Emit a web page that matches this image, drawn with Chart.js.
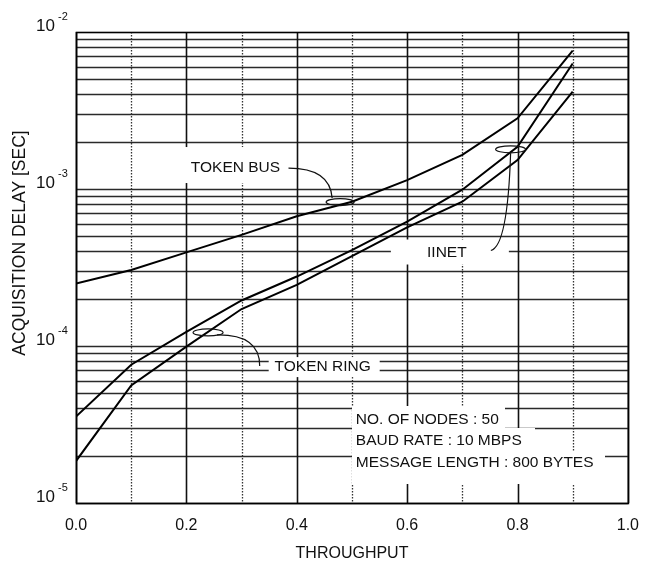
<!DOCTYPE html>
<html>
<head>
<meta charset="utf-8">
<script src="https://cdn.jsdelivr.net/npm/chart.js@4.4.1/dist/chart.umd.min.js"></script>
<style>html,body{margin:0;padding:0;background:#fff}canvas{display:block}</style>
</head>
<body>
<canvas id="c" width="652" height="562"></canvas>
<script>
// ---- data ----
const throughput = [0.0, 0.1, 0.2, 0.3, 0.4, 0.5, 0.6, 0.7, 0.8, 0.9];
const tokenBus   = [2.5e-4, 3.05e-4, 3.95e-4, 5.1e-4, 6.7e-4, 8.3e-4, 1.14e-3, 1.65e-3, 2.82e-3, 7.6e-3];
const iinet      = [3.55e-5, 7.6e-5, 1.23e-4, 1.95e-4, 2.77e-4, 4.08e-4, 6.2e-4, 9.9e-4, 1.86e-3, 6.3e-3];
const tokenRing  = [1.85e-5, 5.6e-5, 9.9e-5, 1.72e-4, 2.45e-4, 3.74e-4, 5.7e-4, 8.3e-4, 1.53e-3, 4.17e-3];

const xTickValues = [0, 0.1, 0.2, 0.3, 0.4, 0.5, 0.6, 0.7, 0.8, 0.9, 1.0];
const xTickLabels = ['0.0', '', '0.2', '', '0.4', '', '0.6', '', '0.8', '', '1.0'];
const yTickValues = [1e-5, 1e-4, 1e-3, 1e-2];
const yTickBase = '10';
const yTickExponents = ['-5', '-4', '-3', '-2'];
const yDecades = [-5, -4, -3];

const xTitle = 'THROUGHPUT';
const yTitle = 'ACQUISITION DELAY [SEC]';
const notes = ['NO. OF NODES : 50', 'BAUD RATE : 10 MBPS', 'MESSAGE LENGTH : 800 BYTES'];

// ---- annotation placement (data coords + pixel styling) ----
const FONT = '"Liberation Sans", Arial, Helvetica, sans-serif';
const labels = [
  { text: 'TOKEN BUS',  x: 0.289, y: 1.36e-3, box: [-56, -21, 52, 15] },
  { text: 'IINET',      x: 0.672, y: 3.94e-4, box: [-56, -13, 62, 12] },
  { text: 'TOKEN RING', x: 0.447, y: 7.34e-5, box: [-54, -10, 57, 10] }
];
const ellipses = [
  { x: 0.4786, y: 8.26e-4, rx: 14, ry: 3.5 },
  { x: 0.7875, y: 1.79e-3, rx: 15, ry: 3.5 },
  { x: 0.2393, y: 1.22e-4, rx: 15, ry: 3.5 }
];
// leaders: start relative to label centre, control & end relative to ellipse centre
const leaders = [
  { label: 0, ell: 0, s: [53, 0],  c: [-10, -34], e: [-8, -4] },
  { label: 1, ell: 1, s: [44, -2], c: [-3, 97],   e: [0, 4] },
  { label: 2, ell: 2, s: [-63, -1], c: [52, 2],   e: [9, 2.5] }
];
const notesPos = { x: 0.507, ys: [3.38e-5, 2.48e-5, 1.80e-5] };
const notesBoxes = [[352, 406, 505, 428], [352, 428, 535, 452], [352, 452, 605, 484]];

const gridPlugin = {
  id: 'gridPlugin',
  beforeDatasetsDraw(chart) {
    const ctx = chart.ctx, xs = chart.scales.x, ys = chart.scales.y, a = chart.chartArea;
    ctx.save();
    // horizontal log grid
    ctx.strokeStyle = '#2a2a2a';
    ctx.lineWidth = 1.4;
    yDecades.forEach(d => {
      for (let m = 1; m <= 9; m++) {
        const y = Math.round(ys.getPixelForValue(m * Math.pow(10, d))) + 0.5;
        ctx.beginPath(); ctx.moveTo(a.left, y); ctx.lineTo(a.right, y); ctx.stroke();
      }
    });
    // vertical grid
    xTickValues.forEach((v, i) => {
      const x = Math.round(xs.getPixelForValue(v)) + 0.5;
      ctx.beginPath();
      if (i % 2 === 0) { ctx.setLineDash([]); ctx.lineWidth = 1.6; ctx.strokeStyle = '#111'; }
      else { ctx.setLineDash([1.5, 1.5]); ctx.lineWidth = 1.3; ctx.strokeStyle = '#333'; }
      ctx.moveTo(x, a.top); ctx.lineTo(x, a.bottom); ctx.stroke();
    });
    ctx.setLineDash([]);
    // white boxes behind labels
    ctx.fillStyle = '#fff';
    labels.forEach(l => {
      const cx = xs.getPixelForValue(l.x), cy = ys.getPixelForValue(l.y);
      ctx.fillRect(cx + l.box[0], cy + l.box[1], l.box[2] - l.box[0], l.box[3] - l.box[1]);
    });
    notesBoxes.forEach(b => ctx.fillRect(b[0], b[1], b[2] - b[0], b[3] - b[1]));
    // frame
    ctx.strokeStyle = '#000';
    ctx.lineWidth = 1.6;
    ctx.strokeRect(a.left + 0.5, a.top + 0.5, a.right - a.left, a.bottom - a.top);
    ctx.restore();
  },
  afterDatasetsDraw(chart) {
    const ctx = chart.ctx, xs = chart.scales.x, ys = chart.scales.y, a = chart.chartArea;
    ctx.save();
    ctx.fillStyle = '#111';
    ctx.strokeStyle = '#111';
    // labels
    ctx.font = '15.5px ' + FONT;
    ctx.textAlign = 'center';
    ctx.textBaseline = 'middle';
    const lc = labels.map(l => [xs.getPixelForValue(l.x), ys.getPixelForValue(l.y)]);
    labels.forEach((l, i) => ctx.fillText(l.text, lc[i][0], lc[i][1]));
    // ellipses
    const ec = ellipses.map(e => [xs.getPixelForValue(e.x), ys.getPixelForValue(e.y)]);
    ctx.lineWidth = 1.2;
    ellipses.forEach((e, i) => {
      ctx.beginPath(); ctx.ellipse(ec[i][0], ec[i][1], e.rx, e.ry, 0, 0, Math.PI * 2); ctx.stroke();
    });
    // leaders
    leaders.forEach(L => {
      const s = [lc[L.label][0] + L.s[0], lc[L.label][1] + L.s[1]];
      const e = [ec[L.ell][0] + L.e[0], ec[L.ell][1] + L.e[1]];
      const c = [ec[L.ell][0] + L.c[0], ec[L.ell][1] + L.c[1]];
      ctx.beginPath(); ctx.moveTo(s[0], s[1]); ctx.quadraticCurveTo(c[0], c[1], e[0], e[1]); ctx.stroke();
    });
    // notes
    ctx.textAlign = 'left';
    ctx.font = '15.5px ' + FONT;
    const nx = xs.getPixelForValue(notesPos.x);
    notes.forEach((t, i) => ctx.fillText(t, nx, ys.getPixelForValue(notesPos.ys[i])));
    // y tick labels 10^n
    yTickValues.forEach((v, i) => {
      const y = ys.getPixelForValue(v) - 1.5;
      ctx.textBaseline = 'alphabetic';
      ctx.textAlign = 'right';
      ctx.font = '17px ' + FONT;
      ctx.fillText(yTickBase, a.left - 21, y);
      ctx.textAlign = 'left';
      ctx.font = '11px ' + FONT;
      ctx.fillText(yTickExponents[i], a.left - 18, y - 11);
    });
    // axis titles
    ctx.textAlign = 'center';
    ctx.textBaseline = 'middle';
    ctx.font = '16px ' + FONT;
    ctx.fillText(xTitle, 352, 554);
    ctx.save();
    ctx.translate(20, 243);
    ctx.rotate(-Math.PI / 2);
    ctx.font = '17.5px ' + FONT;
    ctx.fillText(yTitle, 0, 0);
    ctx.restore();
    ctx.restore();
  }
};

const mk = (arr) => throughput.map((x, i) => ({ x: x, y: arr[i] }));
const ds = (label, arr) => ({
  label: label, data: mk(arr), borderColor: '#000', borderWidth: 2,
  pointRadius: 0, tension: 0, fill: false
});

new Chart(document.getElementById('c'), {
  type: 'line',
  data: { datasets: [ds('TOKEN BUS', tokenBus), ds('IINET', iinet), ds('TOKEN RING', tokenRing)] },
  options: {
    responsive: false, animation: false, devicePixelRatio: 1,
    layout: { padding: { top: 32, right: 16, left: 0, bottom: 0 } },
    plugins: { legend: { display: false }, tooltip: { enabled: false } },
    scales: {
      x: {
        type: 'linear', min: 0, max: 1,
        grid: { display: false, drawTicks: false }, border: { display: false },
        afterBuildTicks: s => { s.ticks = xTickValues.map(v => ({ value: v })); },
        ticks: {
          autoSkip: false, maxRotation: 0, padding: 13, color: '#111',
          font: { family: FONT, size: 16 },
          callback: (v, i) => xTickLabels[i]
        },
        afterFit: s => { s.height = 59; }
      },
      y: {
        type: 'logarithmic', min: 1e-5, max: 1e-2,
        grid: { display: false, drawTicks: false }, border: { display: false },
        ticks: { display: false },
        afterFit: s => { s.width = 76; }
      }
    }
  },
  plugins: [gridPlugin]
});
</script>
</body>
</html>
